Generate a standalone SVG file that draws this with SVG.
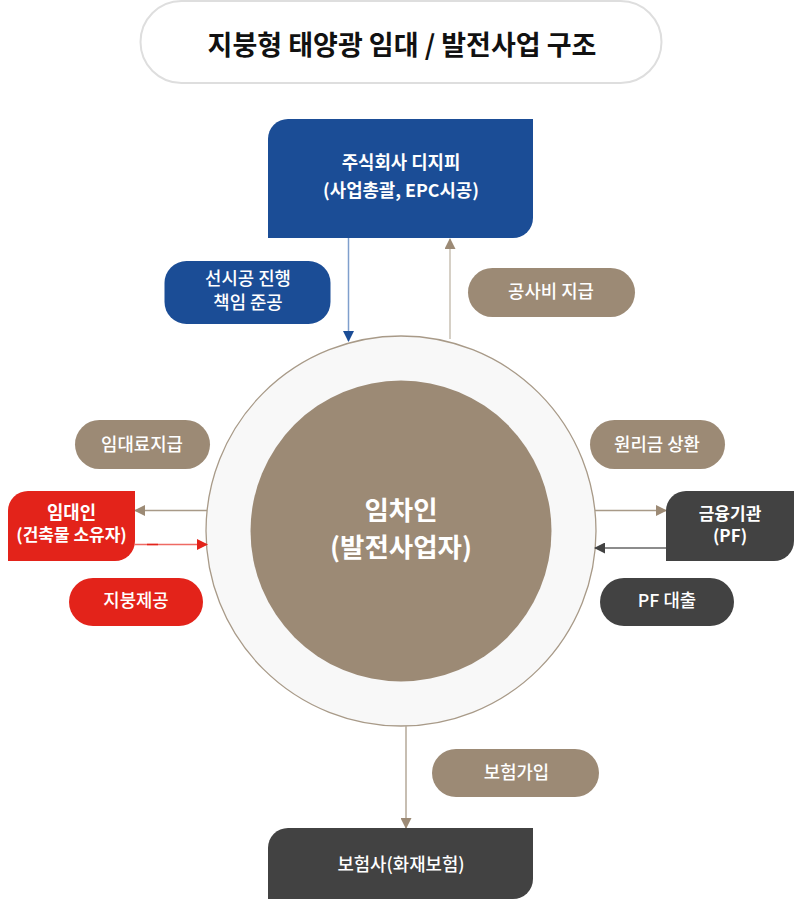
<svg xmlns="http://www.w3.org/2000/svg" width="800" height="899" viewBox="0 0 800 899">
<style>
text{font-family:"Noto Sans CJK KR","Noto Sans",sans-serif;text-anchor:middle;font-weight:500;fill:#fff;font-size:17.800px}
.title{fill:#111;font-size:27px;font-weight:700}
.big{font-size:26.500px;font-weight:700}
.small{font-size:17px;font-weight:700}
.node{font-weight:700}
.tan{fill:#9c8a75}.blue{fill:#1b4d96}.red{fill:#e3231a}.dark{fill:#424242}
.ln{fill:none;stroke-width:1.500}
</style>
<defs>
<marker id="aTan" markerWidth="11" markerHeight="11" markerUnits="userSpaceOnUse" refX="10" refY="5.500" orient="auto"><path d="M0 0L11 5.500L0 11Z" fill="#9c8a75"/></marker>
<marker id="aBlue" markerWidth="11" markerHeight="11" markerUnits="userSpaceOnUse" refX="10" refY="5.500" orient="auto"><path d="M0 0L11 5.500L0 11Z" fill="#1b4d96"/></marker>
<marker id="aRed" markerWidth="11" markerHeight="11" markerUnits="userSpaceOnUse" refX="10" refY="5.500" orient="auto"><path d="M0 0L11 5.500L0 11Z" fill="#e3231a"/></marker>
<marker id="aDark" markerWidth="11" markerHeight="11" markerUnits="userSpaceOnUse" refX="10" refY="5.500" orient="auto"><path d="M0 0L11 5.500L0 11Z" fill="#424242"/></marker>
</defs>
<rect width="800" height="899" fill="#fff"/>
<g id="title"><rect x="140.500" y="1" width="521" height="82" rx="41" fill="#fff" stroke="#dedede" stroke-width="2"/><text class="title" x="402" y="55">지붕형 태양광 임대 / 발전사업 구조</text></g>
<g id="center"><circle cx="401" cy="531" r="195" fill="#f8f8f8" stroke="#a89a88" stroke-width="1.300"/><circle cx="401" cy="531" r="150.500" class="tan"/><text class="big" x="401" y="520">임차인</text><text class="big" x="401" y="557">(발전사업자)</text></g>
<g id="connectors">
<path class="ln" d="M348.500 238V341" stroke="#7f9fcc" marker-end="url(#aBlue)"/>
<path class="ln" d="M450 339V239" stroke="#c9c0b3" marker-end="url(#aTan)"/>
<path class="ln" d="M207 510.500H135" stroke="#a89a88" marker-end="url(#aTan)"/>
<path class="ln" d="M135 544.500H207" stroke="#ee6a63" marker-end="url(#aRed)"/>
<path class="ln" d="M147 544.500H158" stroke="#e3231a"/>
<path class="ln" d="M595 510.500H666" stroke="#a89a88" marker-end="url(#aTan)"/>
<path class="ln" d="M666 548H595" stroke="#666" marker-end="url(#aDark)"/>
<path class="ln" d="M406 726V828" stroke="#b5a999" marker-end="url(#aTan)"/>
</g>
<g id="n-dgp"><path class="blue" d="M268 238V139a20 20 0 0 1 20-20H533V218a20 20 0 0 1-20 20Z"/><text class="node" x="401" y="169">주식회사 디지피</text><text class="node" x="401" y="197">(사업총괄, EPC시공)</text></g>
<g id="l-precon"><rect class="blue" x="164.500" y="261" width="166" height="63" rx="22"/><text x="248" y="285">선시공 진행</text><text x="248" y="309">책임 준공</text></g>
<g id="l-cost"><rect class="tan" x="468" y="268" width="167" height="49" rx="24.500"/><text x="551" y="298">공사비 지급</text></g>
<g id="l-rent"><rect class="tan" x="75" y="420" width="135" height="49" rx="24.500"/><text x="142" y="451">임대료지급</text></g>
<g id="n-lessor"><path class="red" d="M8 561V511a20 20 0 0 1 20-20H135V541a20 20 0 0 1-20 20Z"/><text class="node" x="71.500" y="519">임대인</text><text class="small" x="71.500" y="541">(건축물 소유자)</text></g>
<g id="l-roof"><rect class="red" x="69" y="578" width="134" height="48" rx="24"/><text x="136" y="607">지붕제공</text></g>
<g id="l-repay"><rect class="tan" x="590" y="420" width="135" height="49" rx="24.500"/><text x="657" y="451">원리금 상환</text></g>
<g id="n-bank"><path class="dark" d="M666 561V511a20 20 0 0 1 20-20H794V541a20 20 0 0 1-20 20Z"/><text class="small" x="730" y="520">금융기관</text><text class="small" x="730" y="542">(PF)</text></g>
<g id="l-loan"><rect class="dark" x="600" y="578" width="134" height="48" rx="24"/><text x="667" y="607">PF 대출</text></g>
<g id="l-ins"><rect class="tan" x="432" y="749" width="167" height="48" rx="24"/><text x="516.500" y="779">보험가입</text></g>
<g id="n-insurer"><path class="dark" d="M268 899V848a20 20 0 0 1 20-20H533V879a20 20 0 0 1-20 20Z"/><text x="401" y="871">보험사(화재보험)</text></g>
</svg>
